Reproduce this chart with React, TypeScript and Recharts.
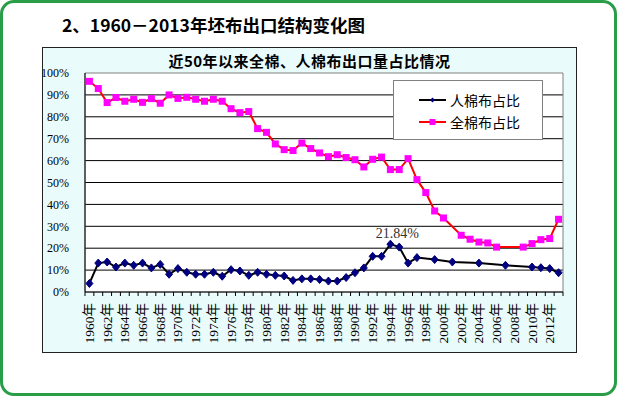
import React from 'react';
import { LineChart, Line, XAxis, YAxis, CartesianGrid, Legend, LabelList, ReferenceArea } from 'recharts';

// 年份 1960 - 2013
const years = Array.from({ length: 54 }, (_, i) => `${1960 + i}年`);

// 人棉布占比 (%)，空值为缺失年份
const renShare = [
  3.9, 13.2, 13.7, 11.4, 13.2, 12.2, 13.2, 11.0, 12.6, 8.1,
  10.7, 9.0, 8.1, 8.1, 9.0, 7.2, 10.2, 9.6, 7.6, 9.0,
  8.1, 7.6, 7.3, 5.3, 6.0, 6.0, 5.7, 5.0, 5.0, 6.6,
  8.8, 11.0, 16.3, 16.3, 21.84, 20.5, 13.2, 15.7, null, 14.8,
  null, 13.7, null, null, 13.2, null, null, 12.2, null, null,
  11.4, 11.1, 10.7, 8.8,
];

// 全棉布占比 (%)
const quanShare = [
  96.2, 92.9, 86.5, 88.8, 87.1, 88.0, 86.6, 88.3, 86.2, 90.0,
  88.4, 88.9, 88.0, 87.1, 88.0, 87.1, 83.7, 81.9, 82.4, 74.6,
  72.9, 67.6, 65.0, 64.6, 68.0, 65.5, 63.5, 61.8, 62.7, 61.4,
  60.4, 57.1, 60.6, 61.6, 55.9, 55.9, 60.9, 51.3, 45.4, 37.0,
  33.8, null, 25.9, 24.1, 22.8, 22.4, 20.5, null, null, 20.5,
  22.1, 23.9, 24.4, 33.2,
];

const yTicks = [0, 10, 20, 30, 40, 50, 60, 70, 80, 90, 100];

const data = years.map((year, i) => ({ year, ren: renShare[i], quan: quanShare[i] }));

const serif = "'Liberation Serif', 'Noto Sans CJK SC', serif";
const cjk = "'Noto Sans CJK SC', sans-serif";

const BAND = 478 / 54;

// X 轴：每个分类边界画刻度线，隔年显示标签
const YearTick = (props: any) => {
  const { x, y, payload, index } = props;
  const left = x - BAND / 2;
  return (
    <g>
      <line x1={left} y1={y} x2={left} y2={y + 4} stroke="#000" />
      {index === years.length - 1 && (
        <line x1={x + BAND / 2} y1={y} x2={x + BAND / 2} y2={y + 4} stroke="#000" />
      )}
      {index % 2 === 0 && (
        <text
          transform={`translate(${x}, ${y + 11}) rotate(-90)`}
          textAnchor="end"
          dominantBaseline="central"
          fontSize={13.5}
          fontFamily={serif}
          fill="#000"
        >
          {payload.value}
        </text>
      )}
    </g>
  );
};

const Diamond = (props: any) => {
  const { cx, cy, index } = props;
  if (cx == null || cy == null) return <g key={`d-${index}`} />;
  return (
    <polygon
      key={`d-${index}`}
      points={`${cx},${cy - 4} ${cx + 3.5},${cy} ${cx},${cy + 4} ${cx - 3.5},${cy}`}
      fill="#000080"
      stroke="#000080"
    />
  );
};

const Square = (props: any) => {
  const { cx, cy, index } = props;
  if (cx == null || cy == null) return <g key={`s-${index}`} />;
  return <rect key={`s-${index}`} x={cx - 3.5} y={cy - 3.5} width={7} height={7} fill="#ff00ff" />;
};

const PeakLabel = (props: any) => {
  const { x, y, value, index } = props;
  if (index !== 34) return null;
  return (
    <text x={x + 7} y={y - 6} textAnchor="middle" fontSize={14} fontFamily={serif} fill="#333">
      {`${value}%`}
    </text>
  );
};

const LegendBox = () => (
  <div
    style={{
      width: 150,
      height: 60,
      boxSizing: 'border-box',
      background: '#fff',
      border: '1px solid #808080',
      fontFamily: cjk,
      fontSize: 14,
      color: '#000',
      paddingTop: 8,
    }}
  >
    {[
      { name: '人棉布占比', line: '#000', mark: <polygon points="13.5,1.5 16,4 13.5,6.5 11,4" fill="#000080" /> },
      { name: '全棉布占比', line: '#ff0000', mark: <rect x={10.5} y={1} width={6} height={6} fill="#ff00ff" /> },
    ].map((it) => (
      <div key={it.name} style={{ display: 'flex', alignItems: 'center', height: 22, marginLeft: 25 }}>
        <svg width={28} height={8} style={{ marginRight: 3 }}>
          <line x1={0} y1={4} x2={27} y2={4} stroke={it.line} strokeWidth={2} />
          {it.mark}
        </svg>
        <span>{it.name}</span>
      </div>
    ))}
  </div>
);

export default function App() {
  return (
    <div
      style={{
        position: 'absolute',
        left: 0,
        top: 0,
        width: 617,
        height: 396,
        boxSizing: 'border-box',
        border: '3px solid #2a9d48',
        borderRadius: 14,
        background: '#fff',
        overflow: 'hidden',
      }}
    >
      <div
        style={{
          position: 'absolute',
          left: 59,
          top: 9,
          fontFamily: cjk,
          fontWeight: 700,
          fontSize: 17.5,
          color: '#000',
          whiteSpace: 'nowrap',
        }}
      >
        2、1960－2013年坯布出口结构变化图
      </div>
      <div
        style={{
          position: 'absolute',
          left: 39,
          top: 44,
          width: 535,
          height: 306,
          boxSizing: 'border-box',
          border: '1px solid #222',
          background: '#e9fbfb',
        }}
      >
        <div
          style={{
            position: 'absolute',
            left: 0,
            right: 0,
            top: 2,
            textAlign: 'center',
            fontFamily: cjk,
            fontWeight: 600,
            fontSize: 15,
            letterSpacing: 0.5,
            color: '#000',
          }}
        >
          近50年以来全棉、人棉布出口量占比情况
        </div>
        <LineChart
          width={533}
          height={304}
          data={data}
          margin={{ top: 25, right: 13, bottom: 4, left: 2 }}
          style={{ position: 'absolute', left: 0, top: 0 }}
        >
          <CartesianGrid
            vertical={false}
            stroke="#000"
            fill="#fff"
            fillOpacity={1}
            horizontalValues={yTicks.slice(1, -1)}
          />
          <ReferenceArea y1={0} y2={100} fill="none" stroke="#808080" ifOverflow="visible" />
          <XAxis
            dataKey="year"
            scale="band"
            interval={0}
            height={56}
            tickLine={false}
            tickSize={0}
            tickMargin={0}
            axisLine={{ stroke: '#000' }}
            tick={<YearTick />}
          />
          <YAxis
            width={40}
            domain={[0, 100]}
            ticks={yTicks}
            interval={0}
            tickLine={false}
            tickMargin={10}
            axisLine={{ stroke: '#000' }}
            tickFormatter={(v: number) => `${v}%`}
            tick={{ fontSize: 12, fontFamily: serif, fill: '#000' }}
          />
          <Legend
            verticalAlign="middle"
            align="center"
            layout="horizontal"
            content={() => <LegendBox />}
            wrapperStyle={{ position: 'absolute', left: 350, top: 32, width: 150, height: 60 }}
          />
          <Line
            type="linear"
            dataKey="ren"
            name="人棉布占比"
            stroke="#000"
            strokeWidth={2}
            connectNulls
            dot={<Diamond />}
            isAnimationActive={false}
          >
            <LabelList dataKey="ren" content={<PeakLabel />} />
          </Line>
          <Line
            type="linear"
            dataKey="quan"
            name="全棉布占比"
            stroke="#ff0000"
            strokeWidth={2}
            connectNulls
            dot={<Square />}
            isAnimationActive={false}
          />
        </LineChart>
      </div>
    </div>
  );
}
